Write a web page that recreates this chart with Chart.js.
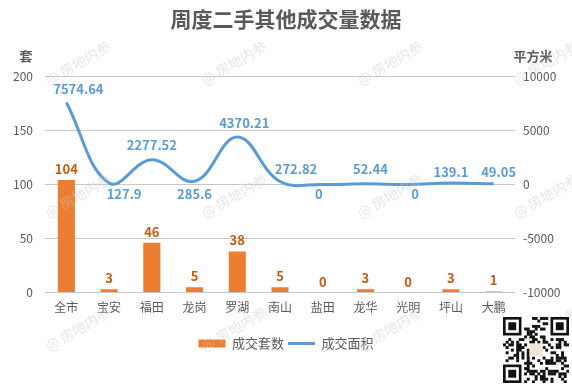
<!DOCTYPE html>
<html>
<head>
<meta charset="utf-8">
<script src="https://cdn.jsdelivr.net/npm/chart.js@4/dist/chart.umd.min.js"></script>
<style>
html, body { margin:0; padding:0; background:#fff; }
#wrap { position:relative; width:572px; height:387px; }
#qr { position:absolute; left:503px; top:317px; }
</style>
</head>
<body>
<div id="wrap">
<canvas id="chart" width="572" height="387"></canvas>
<canvas id="qr" width="66" height="66"></canvas>
</div>
<script>
// data
const districts = ["全市","宝安","福田","龙岗","罗湖","南山","盐田","龙华","光明","坪山","大鹏"];
const dealCounts = [104, 3, 46, 5, 38, 5, 0, 3, 0, 3, 1];
const dealAreas = [7574.64, 127.9, 2277.52, 285.6, 4370.21, 272.82, 0, 52.44, 0, 139.1, 49.05];
const countTicks = [0, 50, 100, 150, 200];
const areaTicks = [-10000, -5000, 0, 5000, 10000];

// label nudges [dx, dy] for the area labels (above / below the curve)
const areaLabelShift = [
  [12,-13.5],[15,11],[0,-14.5],[0,12.5],[7,-14.5],[16,-12],
  [-4,10],[5,-15],[7,10],[0,-11],[5,-11.5]
];

const GREY = "#595959";
const ORANGE = "#ED7D31";
const BLUE = "#5B9BD5";
const FONT = "'Noto Sans CJK SC', 'Noto Sans', sans-serif";

const valueLabels = {
  id:"valueLabels",
  afterDatasetsDraw(chart){
    const c = chart.ctx;
    c.save();
    c.font = "bold 13px " + FONT;
    c.textAlign = "center";
    c.textBaseline = "middle";

    chart.getDatasetMeta(0).data.forEach((bar, i) => {
      c.fillStyle = "#C55A11";
      c.fillText(String(dealCounts[i]), bar.x, bar.y - 11);
    });

    chart.getDatasetMeta(1).data.forEach((pt, i) => {
      const s = areaLabelShift[i];
      c.fillStyle = BLUE;
      c.fillText(String(dealAreas[i]), pt.x + s[0], pt.y + s[1]);
    });
    c.restore();
  }
};

const axisNames = {
  id:"axisNames",
  afterDraw(chart){
    const c = chart.ctx;
    const top = chart.chartArea.top;
    c.save();
    c.font = "bold 13px " + FONT;
    c.fillStyle = GREY;
    c.textAlign = "center";
    c.textBaseline = "middle";
    c.fillText("套", 26, top - 20);
    c.fillText("平方米", 533, top - 20);
    c.restore();
  }
};

const watermark = {
  id:"watermark",
  afterDraw(chart){
    const c = chart.ctx;
    c.save();
    c.font = "14px " + FONT;
    c.fillStyle = "rgba(200,200,200,0.45)";
    c.textAlign = "center";
    c.textBaseline = "middle";
    for(let row = 0; row < 3; row++){
      for(let col = 0; col < 4; col++){
        c.save();
        c.translate(78 + col*156, 63 + row*133);
        c.rotate(-Math.PI/6);
        c.fillText("@ 房地内参", 0, 0);
        c.restore();
      }
    }
    c.restore();
  }
};

new Chart(document.getElementById("chart"), {
  data:{
    labels:districts,
    datasets:[
      {
        type:"bar",
        label:"成交套数",
        data:dealCounts,
        backgroundColor:ORANGE,
        yAxisID:"y",
        order:1,
        categoryPercentage:0.8,
        barPercentage:0.5
      },
      {
        type:"line",
        label:"成交面积",
        data:dealAreas,
        borderColor:BLUE,
        backgroundColor:BLUE,
        borderWidth:3,
        pointRadius:0,
        tension:0.4,
        yAxisID:"y1",
        order:0
      }
    ]
  },
  options:{
    responsive:false,
    animation:false,
    layout:{ padding:{ left:0, right:0, top:0, bottom:27 } },
    plugins:{
      title:{
        display:true,
        text:"周度二手其他成交量数据",
        color:GREY,
        font:{ family:FONT, size:21, weight:"bold" },
        padding:{ top:6, bottom:45 }
      },
      legend:{
        position:"bottom",
        labels:{
          color:GREY,
          font:{ family:FONT, size:13 },
          usePointStyle:true,
          pointStyleWidth:27,
          boxHeight:8,
          padding:4,
          generateLabels(){
            return [
              { text:"成交套数", fillStyle:ORANGE, strokeStyle:ORANGE, lineWidth:0, pointStyle:"rect", datasetIndex:0, fontColor:GREY },
              { text:"成交面积", fillStyle:BLUE, strokeStyle:BLUE, lineWidth:3, pointStyle:"line", datasetIndex:1, fontColor:GREY }
            ];
          }
        }
      },
      tooltip:{ enabled:false }
    },
    scales:{
      x:{
        grid:{ display:false },
        border:{ display:false },
        afterFit(scale){ scale.height += 18; },
        ticks:{ color:GREY, font:{ family:FONT, size:12 }, padding:0 }
      },
      y:{
        position:"left",
        min:0,
        max:200,
        afterBuildTicks(scale){ scale.ticks = countTicks.map(v => ({ value:v })); },
        afterFit(scale){ scale.width = 45; },
        grid:{ color:"#C8C8C8", drawTicks:false },
        border:{ display:false },
        ticks:{ color:GREY, font:{ family:FONT, size:12 }, padding:12 }
      },
      y1:{
        position:"right",
        min:-10000,
        max:10000,
        afterBuildTicks(scale){ scale.ticks = areaTicks.map(v => ({ value:v })); },
        afterFit(scale){ scale.width = 57; },
        grid:{ display:false, drawTicks:false },
        border:{ display:false },
        ticks:{ color:GREY, font:{ family:FONT, size:12 }, padding:8, callback:v => String(v) }
      }
    }
  },
  plugins:[valueLabels, axisNames, watermark]
});

// QR-like badge in the corner (decoration only)
(function drawBadge(){
  const q = document.getElementById("qr").getContext("2d");
  const n = 25, m = 66 / n;
  q.fillStyle = "#fff";
  q.fillRect(0, 0, 66, 66);
  q.fillStyle = "#111";
  const finder = (fx, fy) => {
    q.fillRect(fx*m, fy*m, 7*m, 7*m);
    q.fillStyle = "#fff"; q.fillRect((fx+1)*m, (fy+1)*m, 5*m, 5*m);
    q.fillStyle = "#111"; q.fillRect((fx+2)*m, (fy+2)*m, 3*m, 3*m);
  };
  for(let r = 0; r < n; r++){
    for(let k = 0; k < n; k++){
      const inFinder = (r < 8 && k < 8) || (r < 8 && k >= n-8) || (r >= n-8 && k < 8);
      const inLogo = r >= 10 && r <= 14 && k >= 10 && k <= 14;
      if(inFinder || inLogo) continue;
      const h = ((r*31 + k*17 + r*k*7) ^ (r*5 + k*3)) % 7;
      if(h < 3) q.fillRect(k*m, r*m, m + 0.3, m + 0.3);
    }
  }
  finder(0, 0); finder(n-7, 0); finder(0, n-7);
  q.fillStyle = "#efe6d6";
  q.fillRect(10*m, 10*m, 5*m, 5*m);
})();
</script>
</body>
</html>
